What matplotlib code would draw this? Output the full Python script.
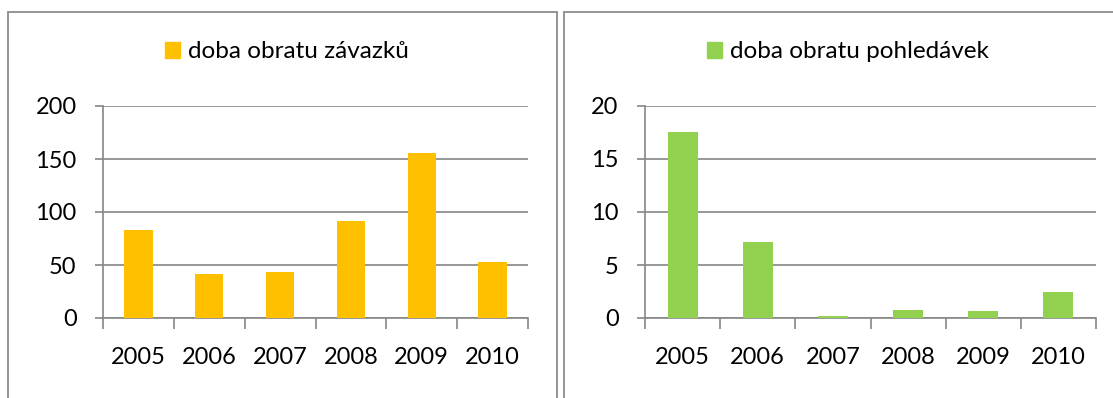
import matplotlib.pyplot as plt
from matplotlib.patches import Rectangle

roky = ["2005", "2006", "2007", "2008", "2009", "2010"]
zavazky = [83, 41.5, 43.4, 91.5, 155.7, 52.8]
pohledavky = [17.5, 7.2, 0.15, 0.75, 0.65, 2.45]

plt.rcParams['font.family'] = ['Lato', 'DejaVu Sans']
W, H = 1113, 398
fig = plt.figure(figsize=(W / 100, H / 100), dpi=100)

grid_c = "#868686"
frame_c = "#8c8c8c"


def px(x0, y0, x1, y1):
    # pixel box -> figure fraction [left, bottom, width, height]
    return [x0 / W, 1 - y1 / H, (x1 - x0) / W, (y1 - y0) / H]


# panel frames
for x0, x1 in [(7.5, 556.5), (563.5, 1125)]:
    fig.add_artist(Rectangle((x0 / W, -0.1), (x1 - x0) / W, 1.1 - 12.5 / H,
                             transform=fig.transFigure, fill=False,
                             edgecolor=frame_c, linewidth=1.3))


def panel(rect, values, color, ymax, step, label, leg_x):
    ax = fig.add_axes(px(*rect))
    x = range(len(values))
    ax.bar(x, values, width=0.4, color=color, zorder=3)
    ax.set_xlim(-0.5, len(values) - 0.5)
    ax.set_ylim(0, ymax)
    ax.set_yticks(range(0, ymax + 1, step))
    ax.yaxis.grid(True, color=grid_c, linewidth=1.2)
    ax.set_axisbelow(True)
    for s in ["top", "right"]:
        ax.spines[s].set_visible(False)
    for s in ["left", "bottom"]:
        ax.spines[s].set_color(grid_c)
        ax.spines[s].set_linewidth(1.2)
    ax.set_xticks([i - 0.5 for i in range(len(values) + 1)], minor=False)
    ax.set_xticklabels([])
    ax.set_xticks(list(x), minor=True)
    ax.set_xticklabels(roky, minor=True)
    ax.tick_params(axis="x", which="major", length=8, width=1.2, color=grid_c)
    ax.tick_params(axis="x", which="minor", length=0, pad=21, labelsize=17)
    ax.tick_params(axis="y", length=6, width=1.2, color=grid_c, pad=13,
                   labelsize=17)
    handle = Rectangle((0, 0), 1, 1, color=color)
    ax.legend([handle], [label], loc="center",
              bbox_to_anchor=(leg_x / W, 1 - 52 / H),
              bbox_transform=fig.transFigure,
              frameon=False, fontsize=17.5, handlelength=0.6, handleheight=0.6,
              handletextpad=0.35, borderaxespad=0)
    return ax


panel((103, 106, 528, 318), zavazky, "#FFC000", 200, 50,
      "doba obratu závazků", 287)
panel((645, 106, 1096, 318), pohledavky, "#92D050", 20, 5,
      "doba obratu pohledávek", 848)

fig.savefig("out.png", dpi=100)
